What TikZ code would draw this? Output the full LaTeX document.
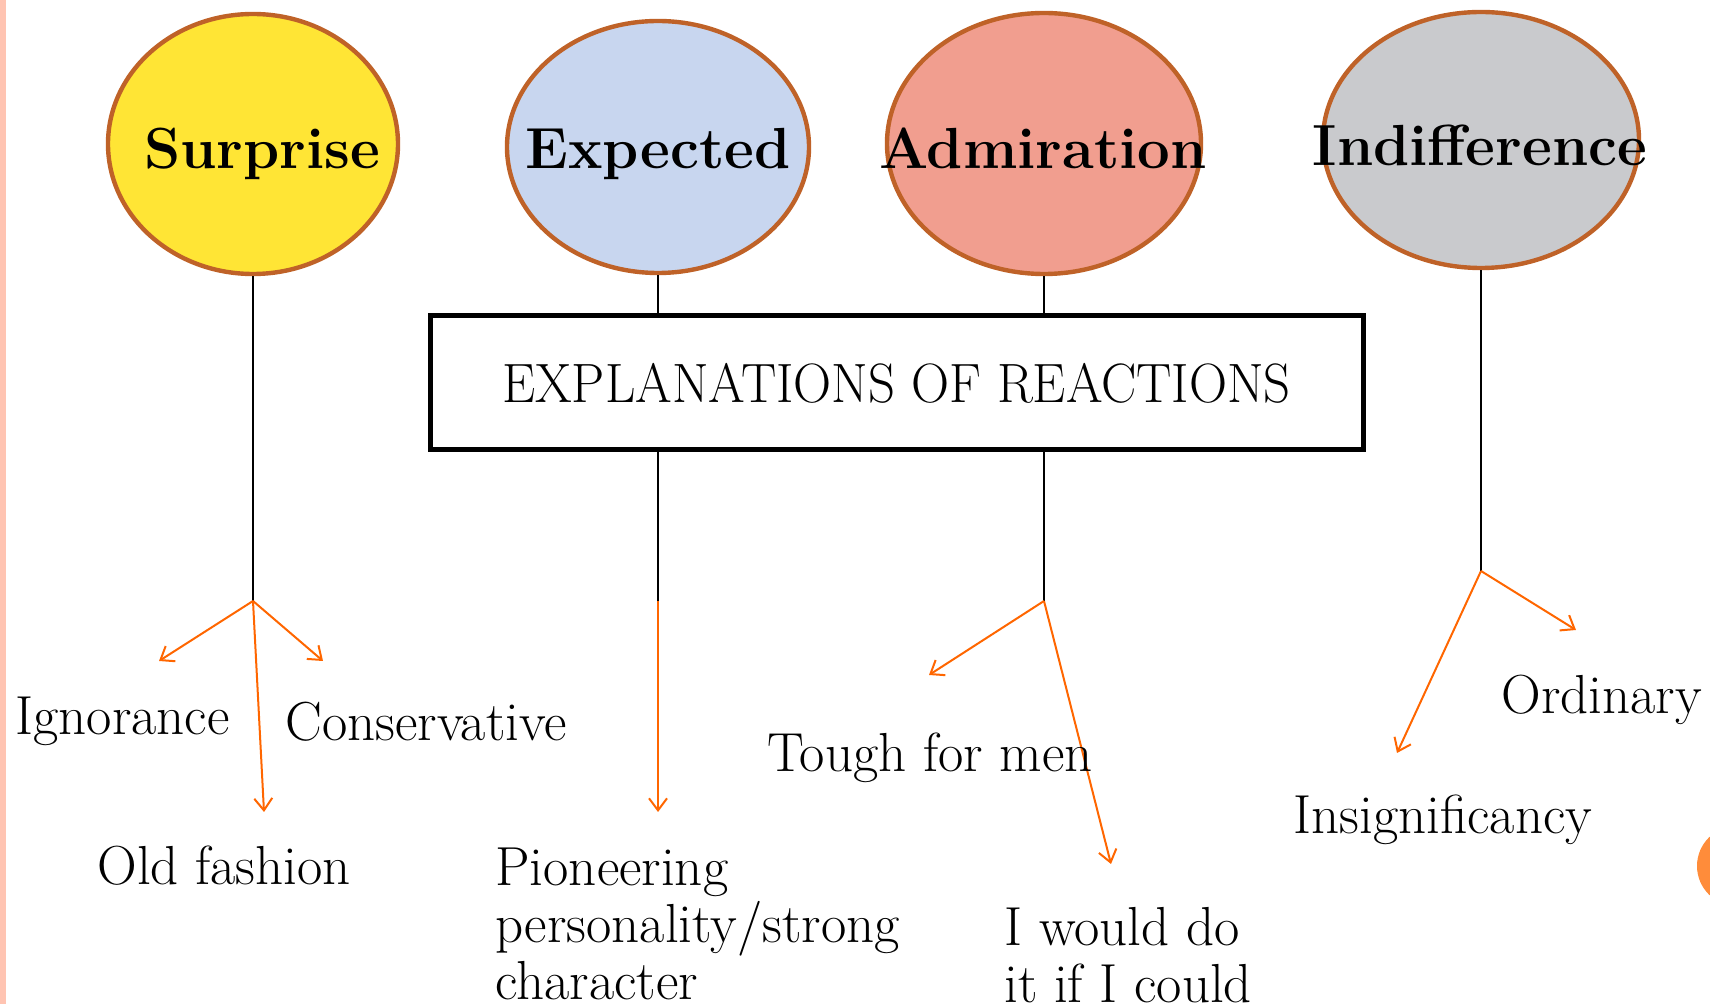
\documentclass[tikz,border=0pt]{standalone}
\usetikzlibrary{shapes.geometric,arrows.meta}
\definecolor{rim}{RGB}{191,98,40}
\definecolor{sunfill}{RGB}{255,229,53}
\definecolor{skyfill}{RGB}{200,214,239}
\definecolor{salmonfill}{RGB}{241,158,143}
\definecolor{greyfill}{RGB}{201,202,205}
\definecolor{arroworange}{RGB}{255,102,0}
\definecolor{stripe}{RGB}{255,196,178}
\definecolor{dot}{RGB}{255,140,58}
\begin{document}
\begin{tikzpicture}[x=0.5pt,y=-0.5pt,
  emo/.style={ellipse, draw=rim, line width=2.2pt, inner sep=0pt},
  emotext/.style={anchor=base, inner sep=0pt, font=\fontsize{29}{34}\selectfont\bfseries},
  stem/.style={line width=1pt, draw=black},
  branch/.style={draw=arroworange, line width=1pt, -{Straight Barb[length=6pt,width=9pt]}},
  lbl/.style={inner sep=0pt, font=\fontsize{27.5}{28.5}\selectfont, align=left},
]
\useasboundingbox (0,0) rectangle (1710,1004);
\clip (0,0) rectangle (1710,1004);

% side stripe and corner dot
\fill[stripe] (0,0) rectangle (6,1004);
\fill[dot] (1737,866) circle (20pt);

% reaction ellipses
\node[emo, fill=sunfill,    minimum width=145pt, minimum height=130pt]   (surprise)     at (253,144) {};
\node[emo, fill=skyfill,    minimum width=151pt, minimum height=126pt]   (expected)     at (658,147) {};
\node[emo, fill=salmonfill, minimum width=157pt, minimum height=130.5pt] (admiration)   at (1044,143.5) {};
\node[emo, fill=greyfill,   minimum width=158pt, minimum height=128pt]   (indifference) at (1481,140) {};

\node[emotext] (surpriseT)     at (262,169)  {Surprise};
\node[emotext] (expectedT)     at (658,169)  {Expected};
\node[emotext] (admirationT)   at (1043,169) {Admiration};
\node[emotext] (indifferenceT) at (1480,166) {Indifference};

% central box
\node[draw=black, line width=2.5pt, minimum width=466.5pt, minimum height=67pt, inner sep=0pt]
  (box) at (896.5,383) {\scalebox{1}[1.05]{\fontsize{26.4}{31}\selectfont EXPLANATIONS OF REACTIONS}};

% branch points
\coordinate (sB) at (253,601);
\coordinate (eB) at (658,601);
\coordinate (aB) at (1044,601);
\coordinate (iB) at (1481,571);

% arrow tips
\coordinate (ignT) at (159,661);
\coordinate (conT) at (323,661);
\coordinate (oldT) at (264,812);
\coordinate (pioT) at (658,812);
\coordinate (touT) at (929,675);
\coordinate (wouT) at (1111,864);
\coordinate (insT) at (1397,753);
\coordinate (ordT) at (1576,630);

% black stems
\draw[stem] (surprise.south) -- (sB);
\draw[stem] (expected.south) -- (expected.south |- box.north);
\draw[stem] (admiration.south) -- (admiration.south |- box.north);
\draw[stem] (eB |- box.south) -- (eB);
\draw[stem] (aB |- box.south) -- (aB);
\draw[stem] (indifference.south) -- (iB);

% orange arrows
\draw[branch] (sB) -- (ignT);
\draw[branch] (sB) -- (conT);
\draw[branch] (sB) -- (oldT);
\draw[branch] (eB) -- (pioT);
\draw[branch] (aB) -- (touT);
\draw[branch] (aB) -- (wouT);
\draw[branch] (iB) -- (insT);
\draw[branch] (iB) -- (ordT);

% explanations
\node[lbl, anchor=base west] (ign) at (15,735)   {Ignorance};
\node[lbl, anchor=base west] (con) at (285,741)  {Conservative};
\node[lbl, anchor=base west] (old) at (97,885)   {Old fashion};
\node[lbl, anchor=north west] (pio) at (495,848) {Pioneering\\personality/strong\\character};
\node[lbl, anchor=base west] (tou) at (767,772)  {Tough for men};
\node[lbl, anchor=north west] (wou) at (1004,907) {I would do\\it if I could};
\node[lbl, anchor=base west] (ins) at (1293,834) {Insignificancy};
\node[lbl, anchor=base west] (ord) at (1501,714) {Ordinary};
\end{tikzpicture}
\end{document}
